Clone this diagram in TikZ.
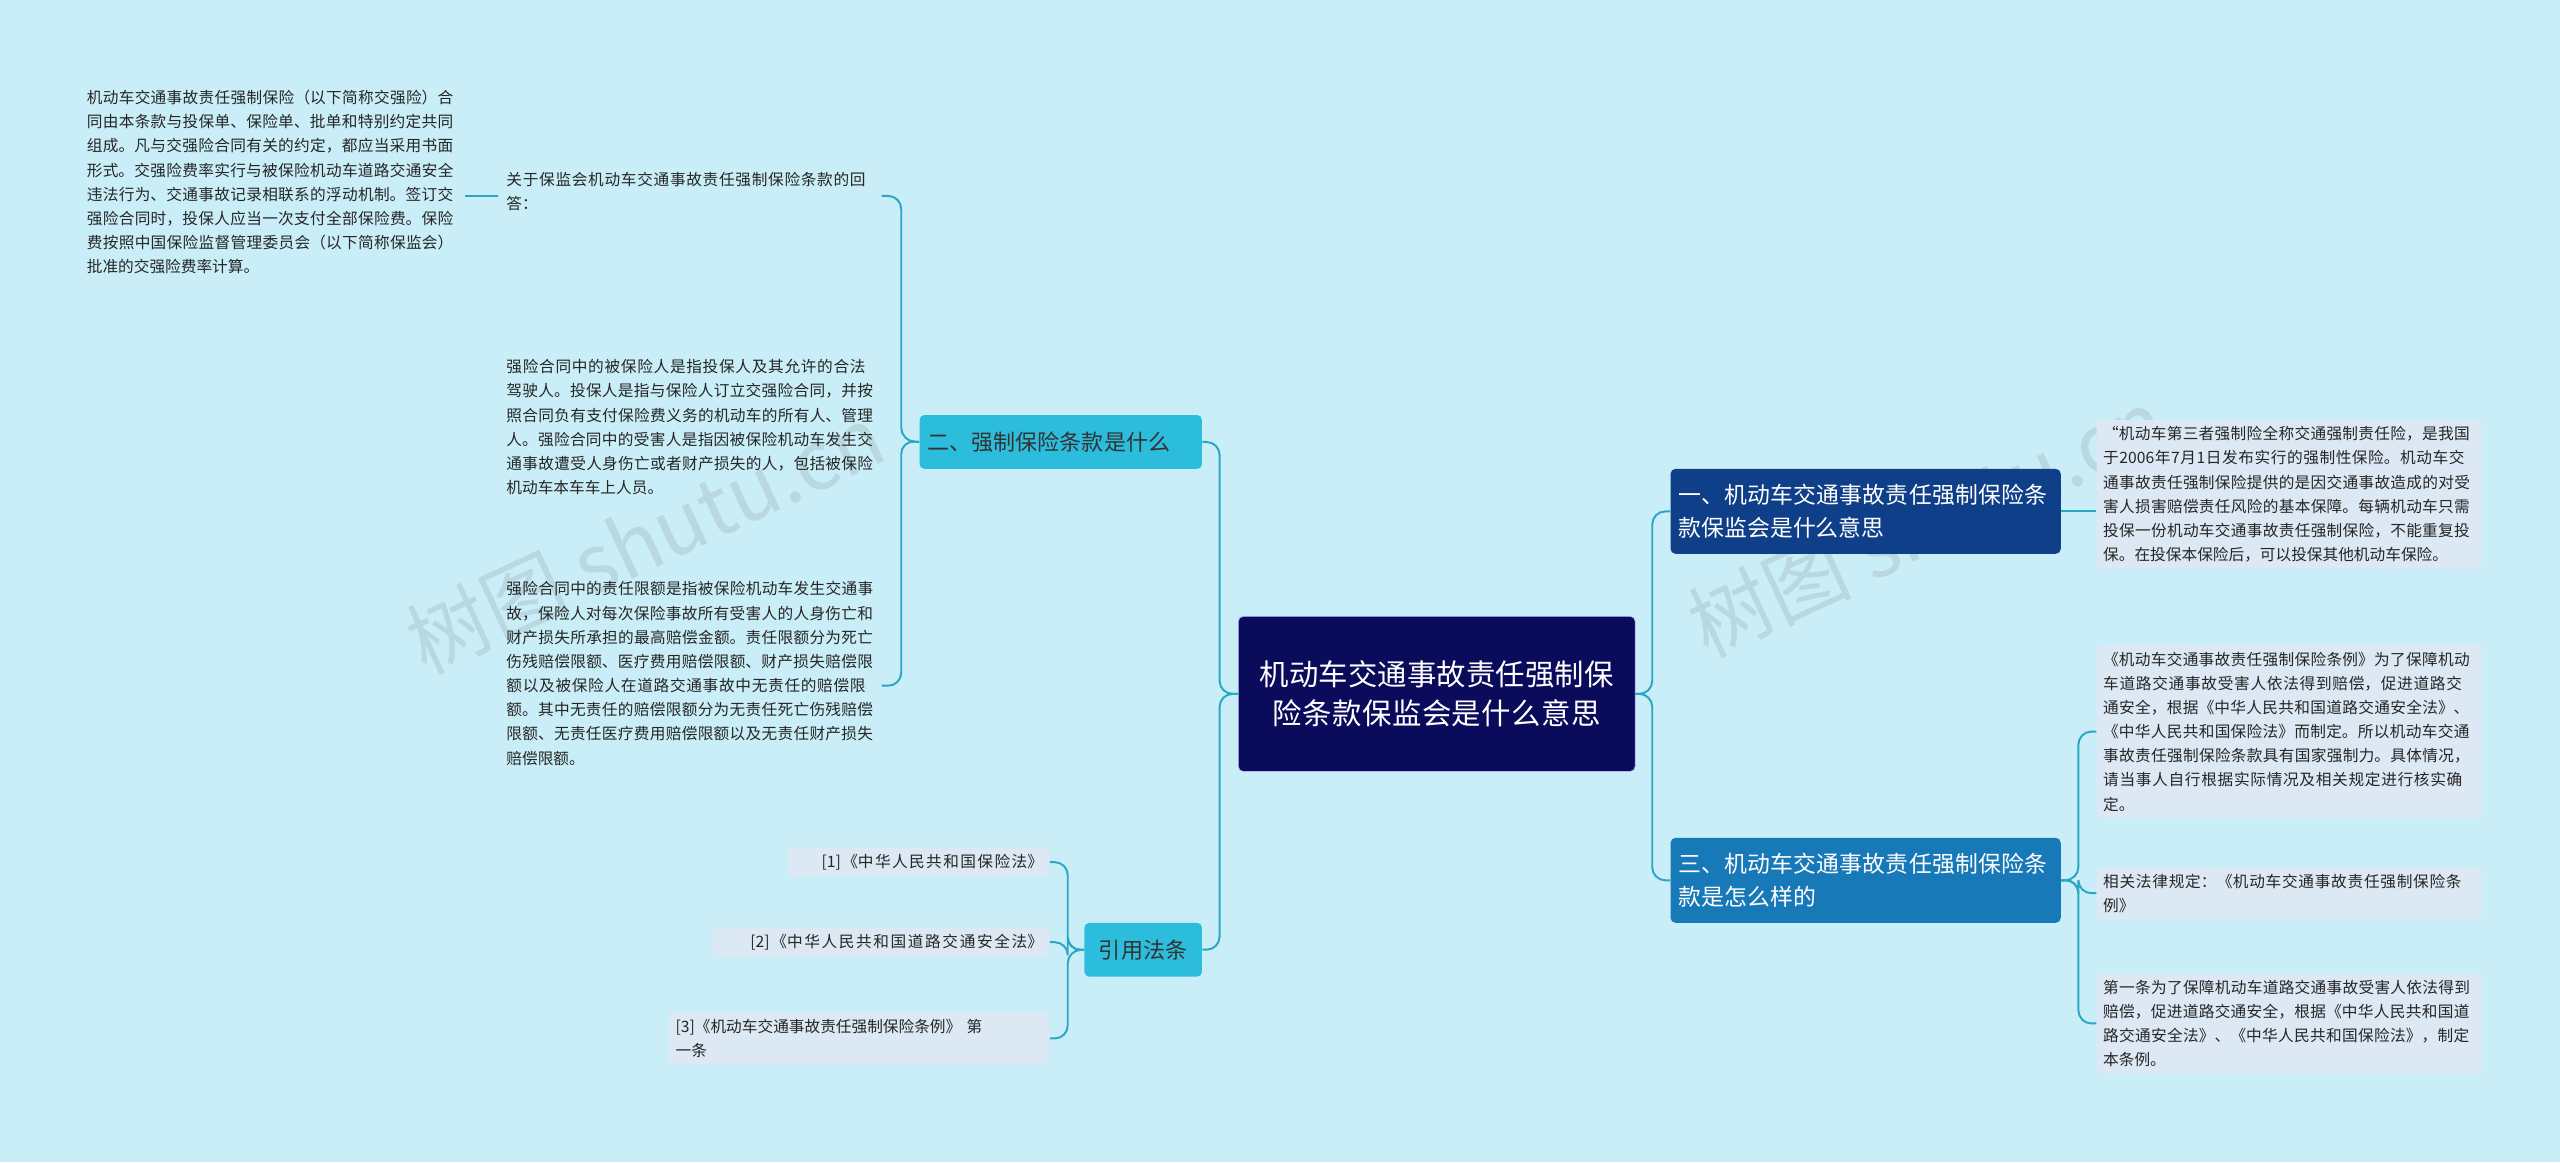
\documentclass[tikz,border=0pt]{standalone}
\usepackage{fontspec}
\setmainfont{Noto Sans CJK SC}
\XeTeXlinebreaklocale "zh"
\XeTeXlinebreakskip=0pt plus 1pt
\definecolor{bg}{HTML}{C9EEF7}
\definecolor{cyb}{HTML}{2CBCDC}
\definecolor{lf}{HTML}{DCE8F4}
\definecolor{cen}{HTML}{0B0B5C}
\definecolor{bo}{HTML}{0F3F88}
\definecolor{bt}{HTML}{1879B9}
\definecolor{ln}{HTML}{2AA6C6}
\begin{document}
\begin{tikzpicture}[x=1pt,y=-1pt,
 leaf/.style={anchor=north west,inner sep=3pt,align=left,font=\fontsize{9.6}{14.8}\selectfont,text=black!85},
 rleaf/.style={leaf,fill=lf,rounded corners=2pt,text width=228pt,inner sep=4pt},
 cbox/.style={anchor=north west,fill=cyb,rounded corners=3pt,font=\fontsize{13.5}{17}\selectfont,inner sep=5pt,text=black!80},
 line/.style={draw=ln,line width=1.2pt,rounded corners=8pt}]
\fill[bg] (0,0) rectangle (1568,712);
\useasboundingbox (0,0) rectangle (1568,712);
\begin{scope}[opacity=0.2]
\node[rotate=25,font=\fontsize{50}{55}\selectfont,text=gray] at (395,330) {树图 shutu.cn};
\node[rotate=25,font=\fontsize{50}{55}\selectfont,text=gray] at (1180,320) {树图 shutu.cn};
\end{scope}
% center
\node[fill=cen,draw=blue!30,rounded corners=3pt,text=white,font=\fontsize{18}{24}\selectfont,text width=222pt,align=center,minimum width=243pt,minimum height=95pt] (c) at (880,425) {机动车交通事故责任强制保险条款保监会是什么意思};
% right branches
\node[fill=bo,text=white,rounded corners=3pt,anchor=north west,text width=229pt,align=left,font=\fontsize{14}{20}\selectfont,inner sep=5pt,minimum height=52pt] (b1) at (1023,287) {一、机动车交通事故责任强制保险条款保监会是什么意思};
\node[fill=bt,text=white,rounded corners=3pt,anchor=north west,text width=229pt,align=left,font=\fontsize{14}{20}\selectfont,inner sep=5pt,minimum height=52pt] (b3) at (1023,513) {三、机动车交通事故责任强制保险条款是怎么样的};
\node[cbox,minimum height=33pt,text width=163pt] (b2) at (563,254) {二、强制保险条款是什么};
\node[cbox,minimum height=33pt,text width=62pt,align=center] (b4) at (664,565) {引用法条};
% right leaves
\node[rleaf] (r1) at (1284,257) {“机动车第三者强制险全称交通强制责任险，是我国于2006年7月1日发布实行的强制性保险。机动车交通事故责任强制保险提供的是因交通事故造成的对受害人损害赔偿责任风险的基本保障。每辆机动车只需投保一份机动车交通事故责任强制保险，不能重复投保。在投保本保险后，可以投保其他机动车保险。};
\node[rleaf] (r2) at (1284,395) {《机动车交通事故责任强制保险条例》为了保障机动车道路交通事故受害人依法得到赔偿，促进道路交通安全，根据《中华人民共和国道路交通安全法》、《中华人民共和国保险法》而制定。所以机动车交通事故责任强制保险条款具有国家强制力。具体情况，请当事人自行根据实际情况及相关规定进行核实确定。};
\node[rleaf] (r3) at (1284,531) {相关法律规定：《机动车交通事故责任强制保险条例》};
\node[rleaf] (r4) at (1284,596) {第一条为了保障机动车道路交通事故受害人依法得到赔偿，促进道路交通安全，根据《中华人民共和国道路交通安全法》、《中华人民共和国保险法》，制定本条例。};
% left leaves
\node[leaf,text width=228pt] (l1) at (307,102) {关于保监会机动车交通事故责任强制保险条款的回答：};
\node[leaf,text width=228pt] (l0) at (50,52) {机动车交通事故责任强制保险（以下简称交强险）合同由本条款与投保单、保险单、批单和特别约定共同组成。凡与交强险合同有关的约定，都应当采用书面形式。交强险费率实行与被保险机动车道路交通安全违法行为、交通事故记录相联系的浮动机制。签订交强险合同时，投保人应当一次支付全部保险费。保险费按照中国保险监督管理委员会（以下简称保监会）批准的交强险费率计算。};
\node[leaf,text width=228pt] (l2) at (307,217) {强险合同中的被保险人是指投保人及其允许的合法驾驶人。投保人是指与保险人订立交强险合同，并按照合同负有支付保险费义务的机动车的所有人、管理人。强险合同中的受害人是指因被保险机动车发生交通事故遭受人身伤亡或者财产损失的人，包括被保险机动车本车车上人员。};
\node[leaf,text width=228pt] (l3) at (307,353) {强险合同中的责任限额是指被保险机动车发生交通事故，保险人对每次保险事故所有受害人的人身伤亡和财产损失所承担的最高赔偿金额。责任限额分为死亡伤残赔偿限额、医疗费用赔偿限额、财产损失赔偿限额以及被保险人在道路交通事故中无责任的赔偿限额。其中无责任的赔偿限额分为无责任死亡伤残赔偿限额、无责任医疗费用赔偿限额以及无责任财产损失赔偿限额。};
\node[rleaf,text width=152pt,anchor=north east,align=right] (q1) at (643,519) {[1]《中华人民共和国保险法》};
\node[rleaf,text width=198pt,anchor=north east,align=right] (q2) at (643,568) {[2]《中华人民共和国道路交通安全法》};
\node[rleaf,text width=225pt,anchor=north east] (q3) at (643,620) {[3]《机动车交通事故责任强制保险条例》 第\\一条};
% connectors
\draw[line] (c.east) -- (1012,425) |- (b1.west);
\draw[line] (c.east) -- (1012,425) |- (b3.west);
\draw[line] (c.west) -- (747,425) |- (b2.east);
\draw[line] (c.west) -- (747,425) |- (b4.east);
\draw[line] (b1.east) -- (r1.west|-b1.east);
\draw[line] (b3.east) -- (1273,539) |- (r2.west);
\draw[line] (b3.east) -- (1273,539) |- (r3.west);
\draw[line] (b3.east) -- (1273,539) |- (r4.west);
\draw[line] (b2.west) -- (552,270) |- (540,120);
\draw[line] (b2.west) -- (552,270) |- (540,420);
\draw[line] (285,120) -- (305,120);
\draw[line] (b4.west) -- (654,582) |- (q1.east);
\draw[line] (b4.west) -- (654,582) |- (q2.east);
\draw[line] (b4.west) -- (654,582) |- (q3.east);
\end{tikzpicture}
\end{document}
